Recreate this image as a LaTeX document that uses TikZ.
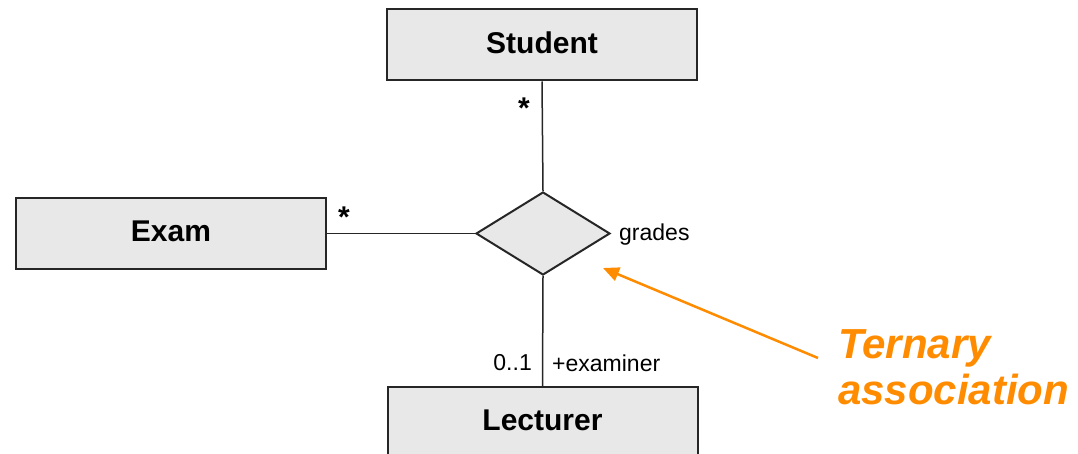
\documentclass[tikz,border=0pt]{standalone}
\usepackage{fontspec}
\setmainfont{Liberation Sans}
\usetikzlibrary{shapes.geometric,arrows.meta}
\definecolor{boxfill}{RGB}{232,232,232}
\definecolor{annot}{RGB}{255,140,0}
\tikzset{
  classbox/.style={draw=black!85, fill=boxfill, line width=2pt, minimum width=310pt, minimum height=71pt, inner sep=0pt,
     text depth=4pt, font=\fontsize{30}{34}\selectfont\bfseries},
  assoc/.style={draw=black!85, fill=boxfill, line width=2pt, diamond, minimum width=134pt, minimum height=83pt, inner sep=0pt, aspect=1.6},
  conn/.style={line width=1.5pt, black!85},
  lbl/.style={font=\fontsize{23}{27}\selectfont, inner sep=0pt},
  star/.style={font=\fontsize{30}{30}\selectfont\bfseries, inner sep=0pt},
  note/.style={font=\fontsize{42}{46}\selectfont\bfseries\itshape, text=annot, align=left, inner sep=0pt},
}
\begin{document}
\begin{tikzpicture}[x=1pt,y=-1pt]
\useasboundingbox (0,0) rectangle (1078,454);
\clip (0,0) rectangle (1078,454);
\node[classbox] (student) at (542,45) {Student};
\node[classbox] (exam) at (171,233.5) {Exam};
\node[classbox] (lecturer) at (542.5,422.5) {Lecturer};
\node[assoc] (grades) at (543,233.5) {};
\draw[conn] (student.south) -- (grades.north);
\draw[conn] (exam.east) -- (grades.west);
\draw[conn] (grades.south) -- (lecturer.north);
\node[lbl, anchor=west] (gl) at (619,235) {grades};
\node[star] (s1) at (524,108) {*};
\node[star] (s2) at (344,217) {*};
\node[lbl, anchor=east] (mult) at (532,363) {0..1};
\node[lbl, anchor=west] (role) at (552,363) {+examiner};
\coordinate (tail) at (818,358);
\coordinate (tip) at (603,268);
\draw[line width=2.5pt, annot, -{Triangle[length=16pt,width=14pt]}] (tail) -- (tip);
\node[note, anchor=north west] (ta) at (838,329) {Ternary\\association};
\end{tikzpicture}
\end{document}
